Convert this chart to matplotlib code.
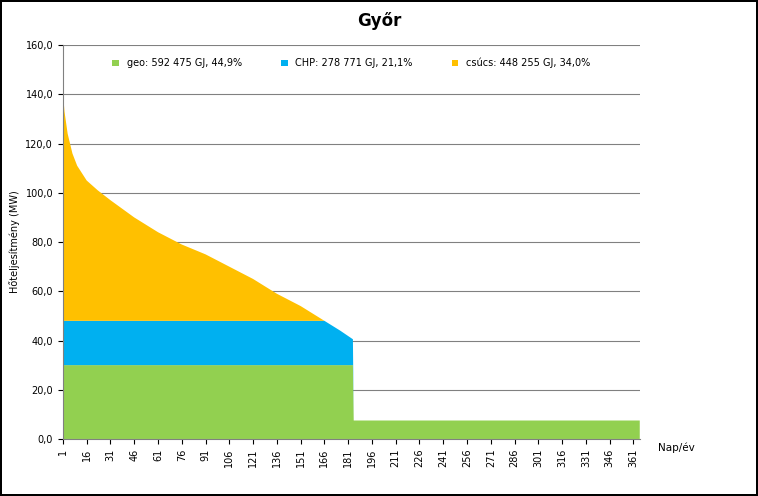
import matplotlib.pyplot as plt
from matplotlib.ticker import FuncFormatter

days = [1, 2, 4, 7, 10, 16, 23, 31, 46, 61, 76, 91, 106, 121, 136, 151, 166, 176, 184, 184.5, 365]
geo = [30, 30, 30, 30, 30, 30, 30, 30, 30, 30, 30, 30, 30, 30, 30, 30, 30, 30, 30, 7.5, 7.5]
chp = [18, 18, 18, 18, 18, 18, 18, 18, 18, 18, 18, 18, 18, 18, 18, 18, 18, 14, 10.5, 0, 0]
csucs = [93, 85, 76, 68, 63, 57, 53, 49, 42, 36, 31, 27, 22, 17, 11, 6, 0, 0, 0, 0, 0]
labels = ["geo: 592 475 GJ, 44,9%", "CHP: 278 771 GJ, 21,1%", "csúcs: 448 255 GJ, 34,0%"]
colors = ["#92D050", "#00B0F0", "#FFC000"]

fig = plt.figure(figsize=(7.58, 4.96), dpi=100)
fig.patch.set_edgecolor("black")
fig.patch.set_linewidth(1.5)
ax = fig.add_axes([0.083, 0.115, 0.761, 0.794])
ax.stackplot(days, geo, chp, csucs, colors=colors, labels=labels, linewidth=0)

ax.set_xlim(1, 365)
ax.set_ylim(0, 160)
ax.set_xticks(range(1, 366, 15))
ax.tick_params(axis="x", labelrotation=90, labelsize=7)
ax.tick_params(axis="y", labelsize=7)
ax.set_yticks(range(0, 161, 20))
ax.yaxis.set_major_formatter(FuncFormatter(lambda v, p: f"{v:.1f}".replace(".", ",")))
ax.grid(axis="y", color="#808080", linewidth=0.8)
ax.set_axisbelow(True)
for s in ["top", "right"]:
    ax.spines[s].set_visible(False)
ax.spines["left"].set_color("#808080")
ax.spines["bottom"].set_color("#808080")

ax.set_ylabel("Hőteljesítmény (MW)", fontsize=7)
fig.text(0.868, 0.09, "Nap/év", fontsize=7.5, ha="left")
fig.suptitle("Győr", fontsize=12, fontweight="bold", y=0.975)
ax.legend(loc="upper center", bbox_to_anchor=(0.5, 0.99), ncol=3, frameon=False,
          fontsize=7, handlelength=0.7, handleheight=0.7, columnspacing=4)

fig.savefig("out.png", dpi=100, edgecolor=fig.get_edgecolor())
